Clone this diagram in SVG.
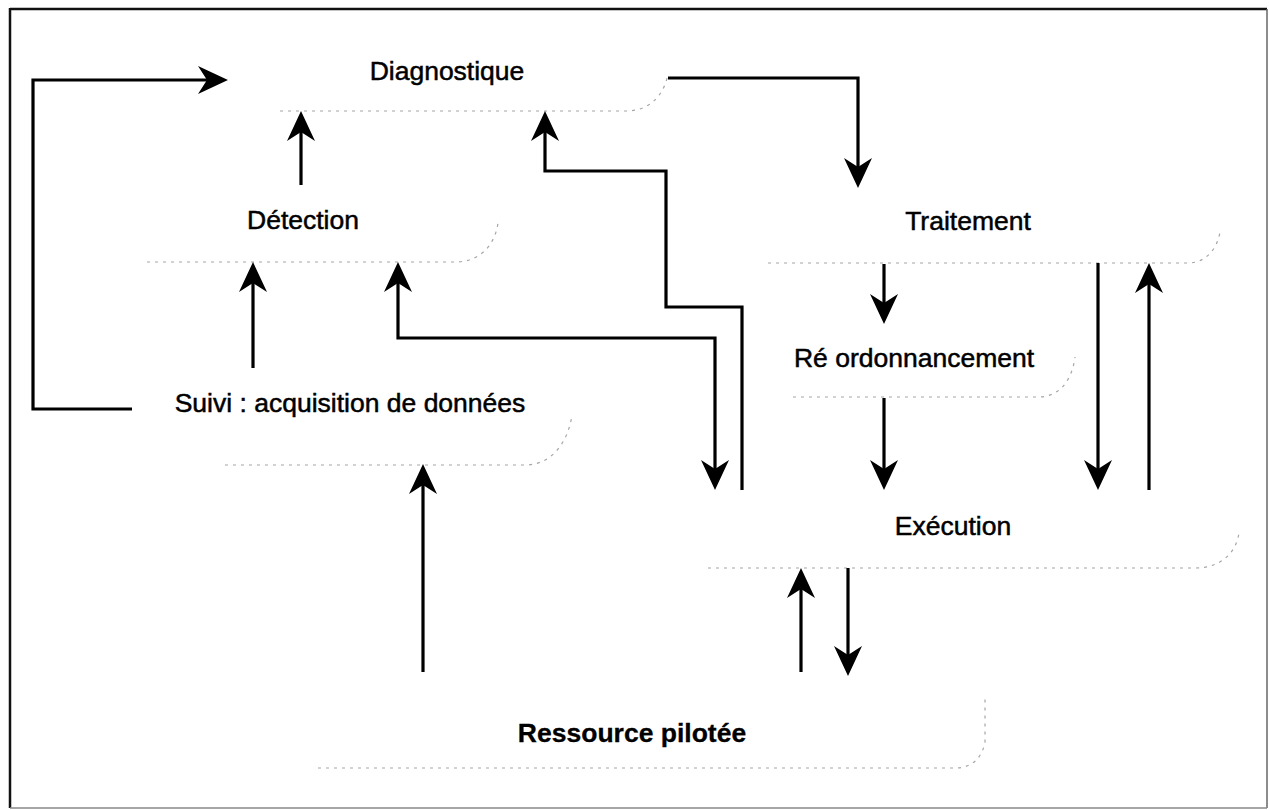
<svg xmlns="http://www.w3.org/2000/svg" width="1269" height="810" viewBox="0 0 1269 810">
  <style>
    .lbl { font-family: "Liberation Sans", Arial, sans-serif; font-size: 26.5px; fill: #000; stroke: #000; stroke-width: 0.5; text-anchor: middle; }
    .bold { font-weight: bold; stroke-width: 0.3; }
    .edge { fill: none; stroke: #a5a5a5; stroke-width: 1.2; stroke-dasharray: 3 5; }
    .wire { fill: none; stroke: #000; stroke-width: 3.2; stroke-linejoin: miter; }
    .arr { marker-end: url(#head); }
    .both { marker-start: url(#head); marker-end: url(#head); }
  </style>
  <defs>
    <marker id="head" viewBox="-32 -16 34 32" refX="-6" refY="0" markerWidth="34" markerHeight="32" markerUnits="userSpaceOnUse" orient="auto-start-reverse">
      <path d="M0,0 L-30,-14 L-21,0 L-30,14 Z" fill="#000"/>
    </marker>
  </defs>

  <rect width="1269" height="810" fill="#fff"/>

  <!-- frame -->
  <g id="frame">
    <line x1="10" y1="9" x2="1267" y2="9" stroke="#111" stroke-width="2.5"/>
    <line x1="10" y1="8" x2="10" y2="808" stroke="#111" stroke-width="2.5"/>
    <line x1="1267" y1="9" x2="1267" y2="808" stroke="#666" stroke-width="1.5"/>
    <line x1="10" y1="808" x2="1267" y2="808" stroke="#888" stroke-width="1.5"/>
  </g>

  <!-- nodes -->
  <g id="diagnostique">
    <path class="edge" d="M280,111 H626 C650,111 664,95 668,74"/>
    <text class="lbl" x="447" y="80">Diagnostique</text>
  </g>
  <g id="detection">
    <path class="edge" d="M147,262 H455 C480,262 495,245 498,223"/>
    <text class="lbl" x="303" y="229">Détection</text>
  </g>
  <g id="suivi">
    <path class="edge" d="M225,465 H525 C552,465 568,442 572,415"/>
    <text class="lbl" x="350" y="412">Suivi : acquisition de données</text>
  </g>
  <g id="traitement">
    <path class="edge" d="M768,263 H1188 C1205,263 1217,250 1220,232"/>
    <text class="lbl" x="968" y="230">Traitement</text>
  </g>
  <g id="reordonnancement">
    <path class="edge" d="M793,397 H1038 C1060,397 1072,380 1075,357"/>
    <text class="lbl" x="914" y="367">Ré ordonnancement</text>
  </g>
  <g id="execution">
    <path class="edge" d="M708,568 H1195 C1222,568 1236,552 1239,533"/>
    <text class="lbl" x="953" y="535">Exécution</text>
  </g>
  <g id="ressource">
    <path class="edge" d="M318,768 H955 C972,768 982,758 985,742 V695"/>
    <text class="lbl bold" x="632" y="742">Ressource pilotée</text>
  </g>

  <!-- connectors -->
  <g id="connectors">
    <path class="wire arr" d="M132,409 H33 V80 H222"/>
    <path class="wire arr" d="M301,185 V117"/>
    <path class="wire arr" d="M742,490 V307 H666 V171 H545 V117"/>
    <path class="wire both" d="M398,268 V338 H715 V484"/>
    <path class="wire arr" d="M668,78 H858 V182"/>
    <path class="wire arr" d="M253,368 V268"/>
    <path class="wire arr" d="M423,672 V470"/>
    <path class="wire arr" d="M884,264 V318"/>
    <path class="wire arr" d="M884,398 V484"/>
    <path class="wire arr" d="M1098,263 V484"/>
    <path class="wire arr" d="M1149,490 V269"/>
    <path class="wire arr" d="M801,672 V574"/>
    <path class="wire arr" d="M848,568 V670"/>
  </g>
</svg>
